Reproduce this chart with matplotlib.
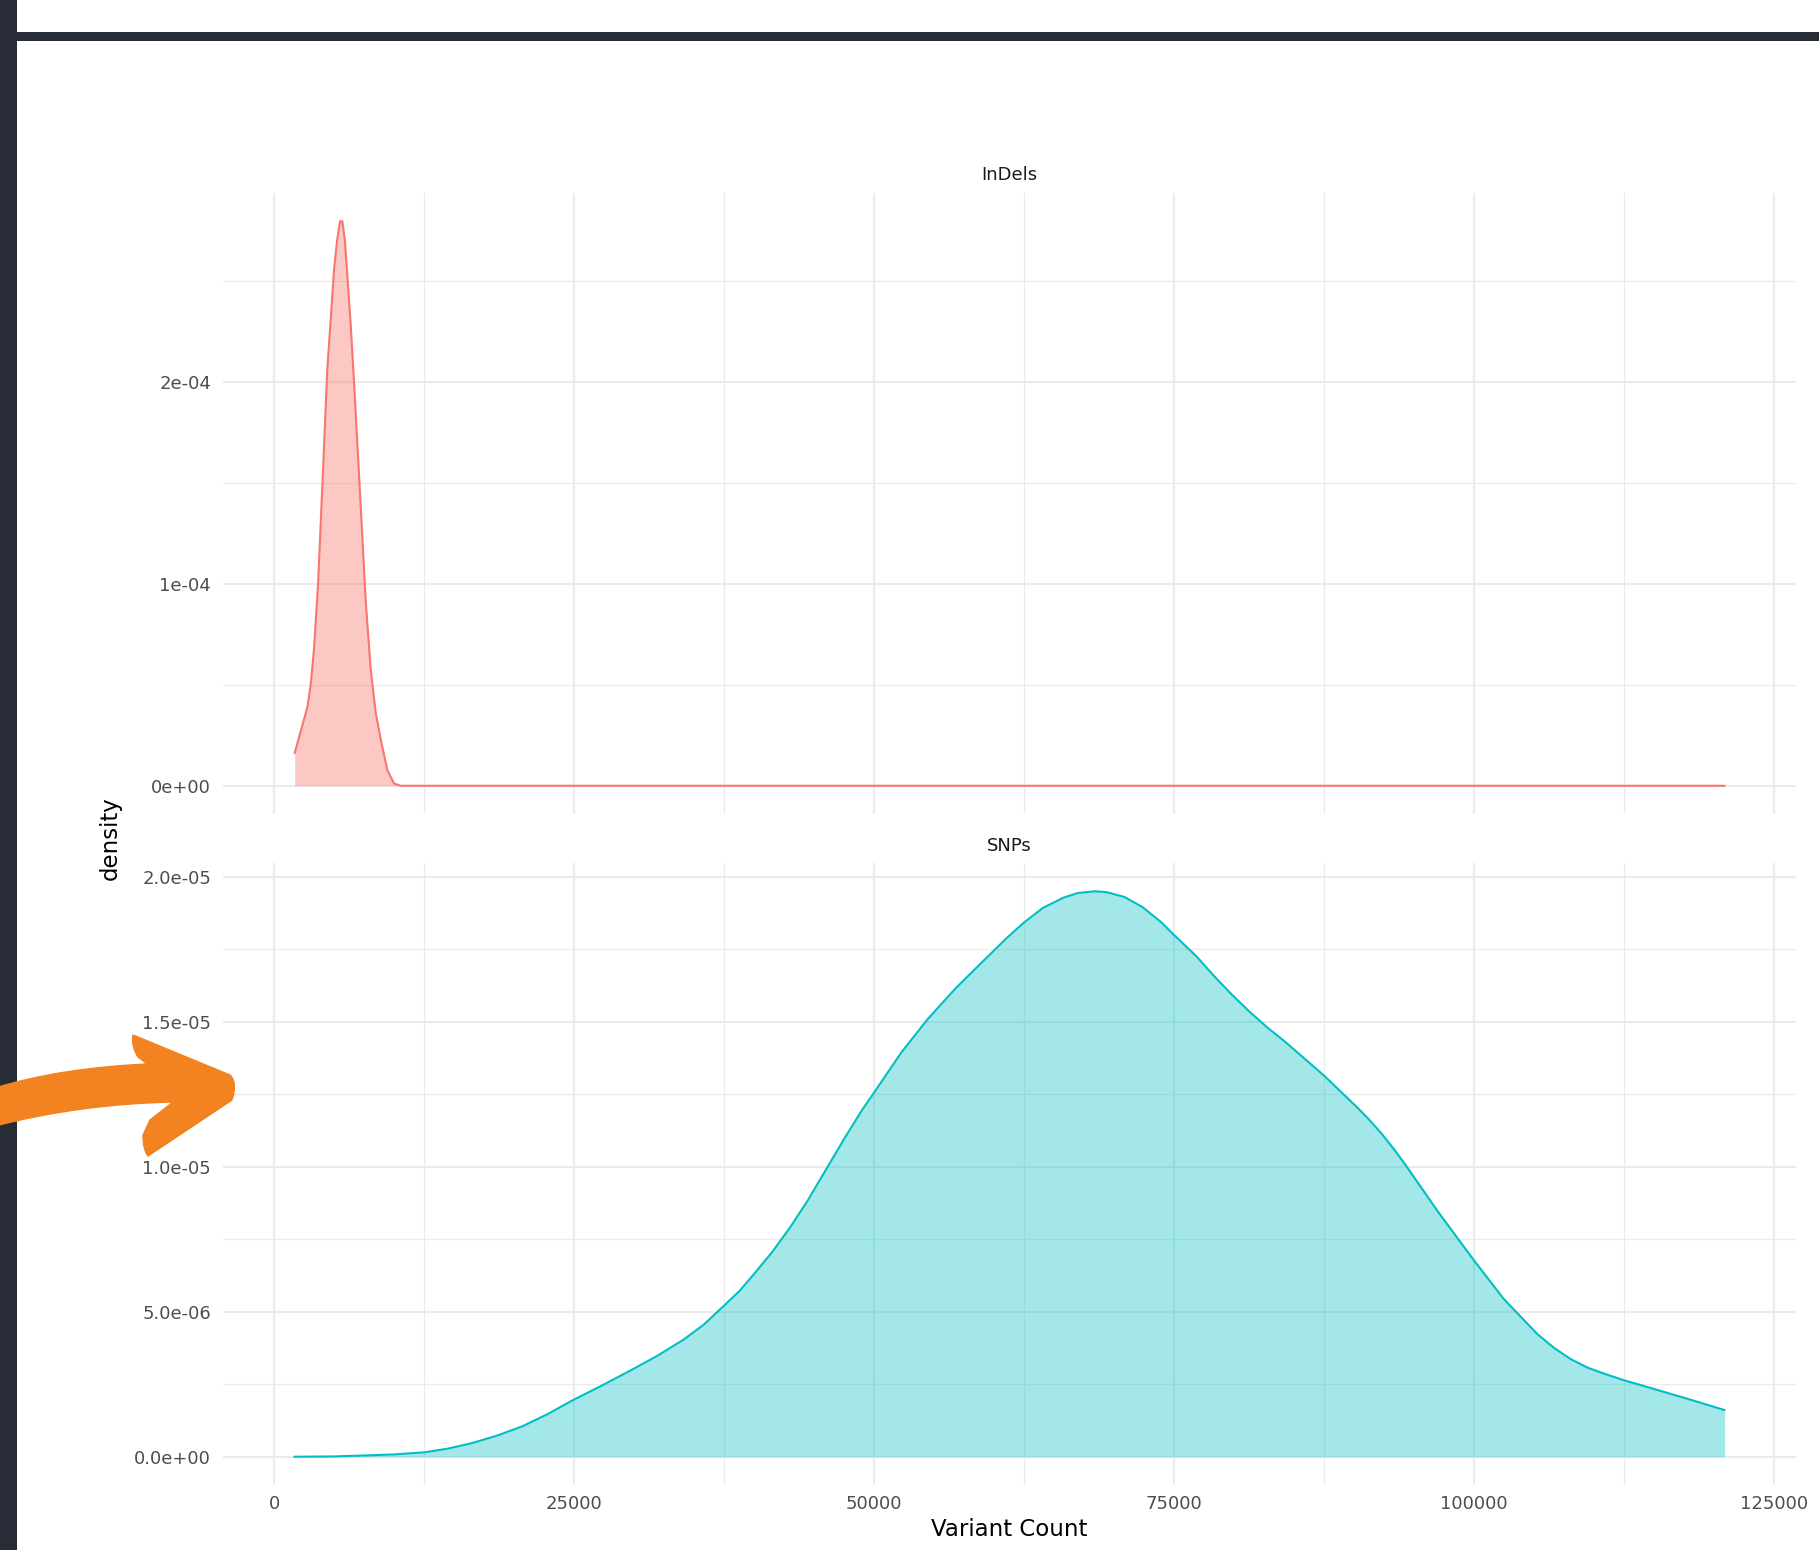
import matplotlib
matplotlib.use("Agg")
import matplotlib.pyplot as plt
from matplotlib.path import Path
from matplotlib.patches import PathPatch, Rectangle
import numpy as np

# Density estimates of variant counts per sample
indel_x = [1720, 2220, 2780, 3050, 3330, 3670, 4030, 4440, 4720, 5000, 5250,
           5500, 5690, 5900, 6110, 6390, 6670, 7220, 7640, 8060, 8470, 8890,
           9440, 10000, 10560, 120900]
indel_y = [0.163e-4, 0.27e-4, 0.39e-4, 0.50e-4, 0.68e-4, 1.006e-4, 1.498e-4,
           2.066e-4, 2.31e-4, 2.559e-4, 2.70e-4, 2.795e-4, 2.795e-4, 2.70e-4,
           2.521e-4, 2.28e-4, 1.991e-4, 1.384e-4, 0.911e-4, 0.570e-4, 0.362e-4,
           0.229e-4, 0.078e-4, 0.011e-4, 0.0, 0.0]

snp_x = [1700, 5000, 7300, 10000, 12500, 14500, 16500, 18600, 20700, 22800,
         24900, 27300, 29600, 31900, 34100, 35800, 37400, 38800, 40000, 41500,
         43000, 44500, 46000, 47500, 49000, 50000, 52300, 54500, 56800, 59000,
         61100, 62500, 64100, 65800, 67000, 68400, 69400, 70900, 72400, 73900,
         75000, 76900, 78300, 79800, 81300, 82800, 84300, 87500, 90200, 91200,
         92300, 93300, 94200, 97000, 100000, 102500, 105300, 106700, 108100,
         109500, 110900, 112500, 114500, 116400, 118600, 120900]
snp_y = [0.0, 0.01e-6, 0.04e-6, 0.08e-6, 0.15e-6, 0.28e-6, 0.47e-6, 0.73e-6,
         1.05e-6, 1.47e-6, 1.95e-6, 2.45e-6, 2.95e-6, 3.47e-6, 4.03e-6, 4.55e-6,
         5.17e-6, 5.72e-6, 6.3e-6, 7.05e-6, 7.9e-6, 8.85e-6, 9.9e-6, 10.95e-6,
         11.95e-6, 12.55e-6, 13.95e-6, 15.1e-6, 16.15e-6, 17.05e-6, 17.9e-6,
         18.42e-6, 18.93e-6, 19.28e-6, 19.44e-6, 19.5e-6, 19.47e-6, 19.3e-6,
         18.95e-6, 18.45e-6, 18.0e-6, 17.25e-6, 16.6e-6, 15.95e-6, 15.35e-6,
         14.8e-6, 14.3e-6, 13.15e-6, 12.08e-6, 11.66e-6, 11.15e-6, 10.63e-6,
         10.13e-6, 8.46e-6, 6.78e-6, 5.44e-6, 4.23e-6, 3.75e-6, 3.36e-6,
         3.07e-6, 2.86e-6, 2.64e-6, 2.4e-6, 2.17e-6, 1.9e-6, 1.61e-6]

panels = ["InDels", "SNPs"]
line_colors = ["#F8766D", "#00BFC4"]
fill_alpha = [0.4, 0.36]

x_major = [0, 25000, 50000, 75000, 100000, 125000]
x_minor = [12500, 37500, 62500, 87500, 112500]
x_labels = ["0", "25000", "50000", "75000", "100000", "125000"]

indel_major = [0.0, 1e-4, 2e-4]
indel_minor = [0.5e-4, 1.5e-4, 2.5e-4]
indel_labels = ["0e+00", "1e-04", "2e-04"]

snp_major = [0.0, 5e-6, 1e-5, 1.5e-5, 2e-5]
snp_minor = [2.5e-6, 7.5e-6, 1.25e-5, 1.75e-5]
snp_labels = ["0.0e+00", "5.0e-06", "1.0e-05", "1.5e-05", "2.0e-05"]

W, H = 1819, 1550
fig = plt.figure(figsize=(W / 100, H / 100), dpi=100)
fig.patch.set_facecolor("white")

grid_col = "#EBEBEB"
tick_col = "#4D4D4D"

x_all = np.array(indel_x + snp_x)
x_lo, x_hi = x_all.min(), x_all.max()
x_pad = 0.05 * (x_hi - x_lo)


def px_rect(left, top, right, bottom):
    return [left / W, 1 - bottom / H, (right - left) / W, (bottom - top) / H]


axes = [fig.add_axes(px_rect(223, 193, 1796, 814)),
        fig.add_axes(px_rect(223, 863, 1796, 1485))]

series = [(indel_x, indel_y, indel_major, indel_minor, indel_labels),
          (snp_x, snp_y, snp_major, snp_minor, snp_labels)]

for i, (ax, (xs, ys, ymaj, ymin_, ylab)) in enumerate(zip(axes, series)):
    xs = np.array(xs)
    ys = np.array(ys)
    ax.set_facecolor("white")
    for s in ax.spines.values():
        s.set_visible(False)
    ax.set_axisbelow(True)
    for v in x_major:
        ax.axvline(v, color=grid_col, lw=1.5, zorder=0)
    for v in x_minor:
        ax.axvline(v, color=grid_col, lw=0.9, zorder=0)
    for v in ymaj:
        ax.axhline(v, color=grid_col, lw=1.5, zorder=0)
    for v in ymin_:
        ax.axhline(v, color=grid_col, lw=0.9, zorder=0)

    ax.fill_between(xs, 0, ys, color=line_colors[i], alpha=fill_alpha[i],
                    lw=0, zorder=2)
    ax.plot(xs, ys, color=line_colors[i], lw=1.5, zorder=3,
            solid_joinstyle="round")

    ytop = ys.max()
    ax.set_ylim(-0.05 * ytop, 1.05 * ytop)
    ax.set_xlim(x_lo - x_pad, x_hi + x_pad)

    ax.set_yticks(ymaj)
    ax.set_yticklabels(ylab)
    ax.set_xticks(x_major)
    if i == 1:
        ax.set_xticklabels(x_labels)
    else:
        ax.set_xticklabels([])
    ax.tick_params(axis="both", length=0, labelsize=13, labelcolor=tick_col)
    ax.tick_params(axis="y", pad=8.5)
    ax.tick_params(axis="x", pad=7)

# facet strip labels
fig.text(1009 / W, 1 - 175 / H, panels[0], ha="center", va="center",
         fontsize=13, color="#1A1A1A")
fig.text(1009 / W, 1 - 846 / H, panels[1], ha="center", va="center",
         fontsize=13, color="#1A1A1A")

fig.text(110 / W, 1 - 838 / H, "density", rotation=90, ha="center",
         va="center", fontsize=16.5, color="black")
fig.text(1009 / W, 1 - 1530 / H, "Variant Count", ha="center", va="center",
         fontsize=16.5, color="black")

# frame bars and callout arrow drawn in pixel space
ov = fig.add_axes([0, 0, 1, 1], zorder=10)
ov.set_xlim(0, W)
ov.set_ylim(H, 0)
ov.axis("off")
ov.patch.set_alpha(0)

bar_col = "#282C37"
ov.add_patch(Rectangle((0, 0), 17, H, color=bar_col, lw=0))
ov.add_patch(Rectangle((17, 32), W - 17, 9, color=bar_col, lw=0))

verts = [
    (-5, 1088), (60, 1068), (147, 1064),
    (138, 1057), (131, 1046), (133, 1035),
    (230, 1075), (238, 1083), (232, 1100),
    (148, 1156), (143, 1150), (143, 1135),
    (150, 1120), (173, 1102),
    (80, 1104), (-5, 1126),
    (-5, 1088),
]
codes = [Path.MOVETO, Path.CURVE3, Path.CURVE3,
         Path.LINETO, Path.CURVE3, Path.CURVE3,
         Path.LINETO, Path.CURVE3, Path.CURVE3,
         Path.LINETO, Path.CURVE3, Path.CURVE3,
         Path.LINETO, Path.LINETO,
         Path.CURVE3, Path.CURVE3,
         Path.CLOSEPOLY]
ov.add_patch(PathPatch(Path(verts, codes), facecolor="#F38321",
                       edgecolor="#F38321", lw=1, joinstyle="round"))

fig.savefig("out.png", dpi=100)
